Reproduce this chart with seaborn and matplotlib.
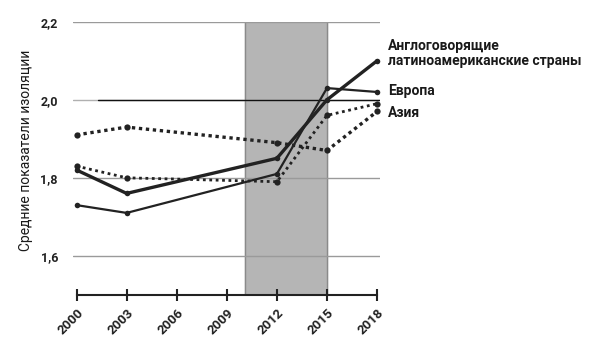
import pandas as pd
import matplotlib
matplotlib.use("Agg")
import matplotlib.pyplot as plt
import seaborn as sns

years = [2000, 2003, 2012, 2015, 2018]
anglo = [1.82, 1.76, 1.85, 2.00, 2.10]
latam = [1.73, 1.71, 1.81, 2.03, 2.02]
asia_top = [1.91, 1.93, 1.89, 1.87, 1.97]
asia_low = [1.83, 1.80, 1.79, 1.96, 1.99]

xticks = [2000, 2003, 2006, 2009, 2012, 2015, 2018]
yticks = [1.6, 1.8, 2.0, 2.2]
ytick_labels = ["1,6", "1,8", "2,0", "2,2"]
labels = ["Англоговорящие\nлатиноамериканские страны", "Европа", "Азия"]
label_values = [2.118, 2.022, 1.966]

sns.set_style("white")
plt.rcParams["font.family"] = ["Roboto", "DejaVu Sans"]

fig = plt.figure(figsize=(6, 3.51), dpi=100)
ax = fig.add_axes([0.122, 0.16, 0.512, 0.778])

# shaded crisis period
ax.axvspan(2010.1, 2015, color="#b5b5b5", zorder=0)
ax.axvline(2010.1, color="#8a8a8a", lw=1, zorder=0)
ax.axvline(2015, color="#8a8a8a", lw=1, zorder=0)

for y in [1.6, 1.8, 2.2]:
    ax.axhline(y, color="#9a9a9a", lw=1, zorder=1)
ax.axhline(2.0, color="#b0b0b0", lw=1, zorder=1)
ax.plot([2001.3, 2018.2], [2.0, 2.0], color="#111111", lw=1, zorder=1)

df = pd.DataFrame({"year": years, "anglo": anglo, "latam": latam,
                   "asia_top": asia_top, "asia_low": asia_low})

sns.lineplot(data=df, x="year", y="anglo", ax=ax, color="#222222", lw=2.4,
             marker="o", markersize=4, markeredgewidth=0, zorder=3)
sns.lineplot(data=df, x="year", y="latam", ax=ax, color="#222222", lw=1.6,
             marker="o", markersize=4, markeredgewidth=0, zorder=3)
sns.lineplot(data=df, x="year", y="asia_top", ax=ax, color="#222222", lw=2.4,
             linestyle=(0, (1, 1.1)), marker="o", markersize=4.5,
             markeredgewidth=0, zorder=3)
sns.lineplot(data=df, x="year", y="asia_low", ax=ax, color="#222222", lw=2.0,
             linestyle=(0, (1, 1.3)), marker="o", markersize=4.5,
             markeredgewidth=0, zorder=3)

for text, v in zip(labels, label_values):
    ax.text(1.025, (v - 1.5) / 0.7, text, transform=ax.transAxes,
            fontsize=10, fontweight="bold", color="#1a1a1a",
            va="center", ha="left", linespacing=1.1, clip_on=False)

ax.set_xlim(1999.8, 2018.2)
ax.set_ylim(1.5, 2.2)
ax.set_xticks(xticks)
ax.set_xticklabels([str(x) for x in xticks], rotation=45, ha="right",
                   rotation_mode="anchor", fontsize=9.5, fontweight="semibold",
                   color="#222222")
ax.set_yticks(yticks)
ax.set_yticklabels(ytick_labels, fontsize=9, fontweight="bold", color="#222222")
ax.tick_params(axis="y", left=False, length=0, pad=11)
ax.tick_params(axis="x", bottom=True, direction="inout", length=9, width=1.5,
               color="#222222", pad=4)
ax.set_xlabel("")
ax.set_ylabel("Средние показатели изоляции", fontsize=10, color="#1a1a1a")
ax.yaxis.set_label_coords(-0.13, 0.53)

for side in ["top", "right", "left"]:
    ax.spines[side].set_visible(False)
ax.spines["bottom"].set_color("#222222")
ax.spines["bottom"].set_linewidth(1.5)
ax.spines["bottom"].set_bounds(2000, 2018)

fig.savefig("out.png", dpi=100)
